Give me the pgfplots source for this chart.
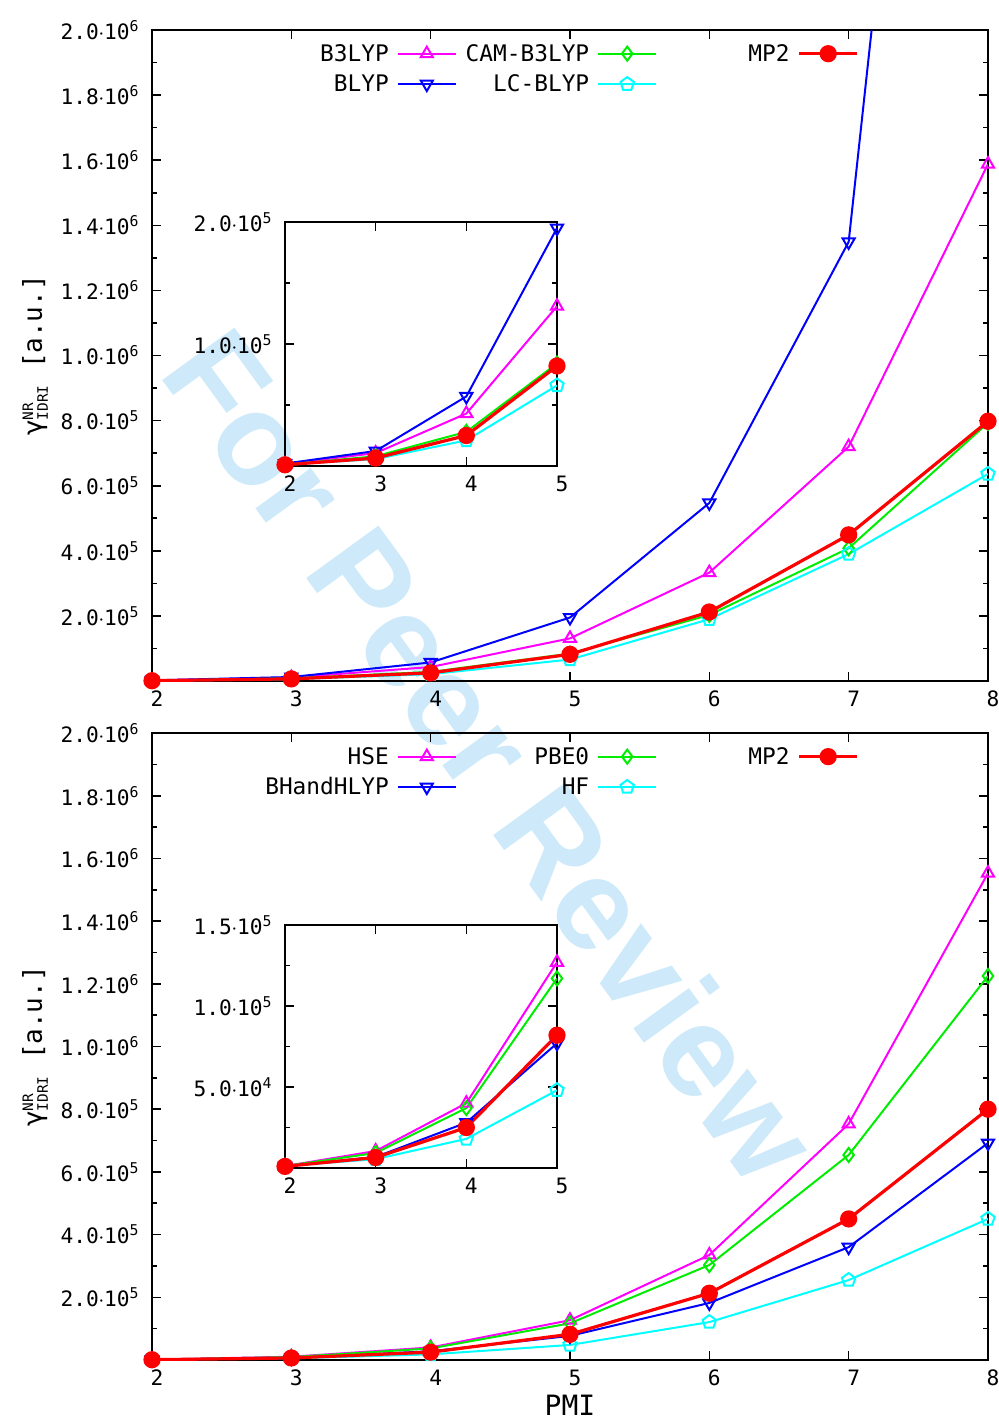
\documentclass[border=0pt]{standalone}
\usepackage{fontspec}
\setmainfont{DejaVu Sans Mono}
\newfontfamily\wmfont{Liberation Sans}
\usepackage{amsmath}
\usepackage{pgfplots}
\usepackage{pgfplotstable}
\pgfplotsset{compat=1.18}
\usetikzlibrary{plotmarks}

\definecolor{gpmag}{RGB}{255,0,255}
\definecolor{gpblue}{RGB}{0,0,255}
\definecolor{gpgreen}{RGB}{0,236,0}
\definecolor{gpcyan}{RGB}{0,255,255}
\definecolor{gpred}{RGB}{255,0,0}
\definecolor{wmblue}{RGB}{206,234,250}

\newcommand{\sci}[2]{#1\kern-0.2pt$\cdot$\kern-0.2pt10\textsuperscript{#2}}
\newcommand{\legtxt}[1]{\makebox[61.7pt][r]{\strut #1}}
\newcommand{\ylab}{\fontsize{13}{15}\selectfont γ$^{\text{\fontsize{7.2}{8}\selectfont NR}}_{\text{\fontsize{7.2}{8}\selectfont IDRI}}$ [a.u.]}

% values in a.u.
\pgfplotstableread{
x  b3lyp  blyp     cam     lc      mp2
2  1500   2000     1000    1000    1000
3  10600  12300    8000    5700    6500
4  43000  57000    28000   21000   25000
5  131000 195000   84000   66000   82000
6  333000 547000   203000  190000  212000
7  720000 1349000  408000  390000  449000
8  1588000 5300000 793000  636000  798000
}\toptab

\pgfplotstableread{
x  hse     bhh     pbe     hf      mp2
2  1200    1200    1200    1200    1000
3  10500   6800    9300    5500    6500
4  40000   28000   37000   18000   25000
5  127000  77000   117000  48000   82000
6  335000  182000  303000  121000  213000
7  753000  360000  654000  255000  450000
8  1553000 692000  1225000 450000  800000
}\bottab

\pgfplotsset{
  gp/.style={
    scale only axis, anchor=south west,
    axis line style={line width=1pt},
    tick style={line width=0.8pt, black},
    tick align=inside,
    major tick length=4.5pt, minor tick length=2.5pt,
    scaled y ticks=false,
    /pgf/number format/assume math mode=true,
    tick label style={font=\fontsize{10.6}{12}\selectfont},
    xticklabel style={yshift=-1pt, xshift=2.5pt},
    yticklabel style={xshift=-2.2pt},
    minor y tick num=1,
    every axis plot/.append style={line width=1pt, mark size=3.5pt},
  },
  mag/.style={gpmag, mark=triangle, mark options={solid}},
  blu/.style={gpblue, mark=triangle, mark options={solid, rotate=180}},
  grn/.style={gpgreen, mark=diamond, mark options={solid}},
  cya/.style={gpcyan, mark=pentagon, mark options={solid}},
  rd/.style={gpred, line width=1.6pt, mark=*, mark options={solid, fill=gpred}},
  gpleg/.style={
    legend columns=2, transpose legend,
    legend plot pos=right,
    legend image code/.code={\draw[mark repeat=2, mark phase=2, ##1]
      plot coordinates {(0pt,0pt) (14.5pt,0pt) (29pt,0pt)};},
    legend style={draw=none, fill=none, inner sep=0pt, row sep=3.9pt,
      nodes={inner sep=0pt},
      /tikz/every odd column/.style={column sep=4pt},
      /tikz/every even column/.style={column sep=4.5pt},
      anchor=north west, at={(axis description cs:0.1352,#1)}},
  },
  ylab/.style={ylabel style={at={(axis description cs:-0.14,0.5)}, anchor=center}},
}

\begin{document}
\fontsize{11.4pt}{13.7pt}\selectfont
\begin{tikzpicture}
\path[use as bounding box] (0,0) rectangle (499pt,-710.5pt);
\node[rotate=-54, text=wmblue, font=\wmfont\bfseries\fontsize{65}{70}\selectfont]
  at (246pt,-377.5pt) {For Peer Review};

% top panel
\begin{axis}[gp, gpleg=0.9816, ylab,
  at={(76pt,-340.5pt)}, width=418pt, height=325.5pt,
  xmin=2, xmax=8, ymin=0, ymax=2000000,
  xtick={2,3,4,5,6,7,8},
  ytick={0,200000,400000,600000,800000,1000000,1200000,1400000,1600000,1800000,2000000},
  yticklabels={,\sci{2.0}{5},\sci{4.0}{5},\sci{6.0}{5},\sci{8.0}{5},\sci{1.0}{6},\sci{1.2}{6},\sci{1.4}{6},\sci{1.6}{6},\sci{1.8}{6},\sci{2.0}{6}},
  ylabel={\ylab},
]
\addplot[mag] table[x=x, y=b3lyp] {\toptab};
\addlegendentry{\legtxt{B3LYP}}
\addplot[blu] table[x=x, y=blyp] {\toptab};
\addlegendentry{\legtxt{BLYP}}
\addplot[grn] table[x=x, y=cam] {\toptab};
\addlegendentry{\legtxt{CAM-B3LYP}}
\addplot[cya] table[x=x, y=lc] {\toptab};
\addlegendentry{\legtxt{LC-BLYP}}
\addplot[rd] table[x=x, y=mp2] {\toptab};
\addlegendentry{\legtxt{MP2}}
\end{axis}

% top inset
\begin{axis}[gp,
  at={(142.5pt,-233pt)}, width=136pt, height=122pt,
  xmin=2, xmax=5, ymin=0, ymax=200000,
  restrict x to domain=2:5,
  xtick={2,3,4,5},
  ytick={0,100000,200000},
  yticklabels={,\sci{1.0}{5},\sci{2.0}{5}},
]
\addplot[mag] table[x=x, y=b3lyp] {\toptab};
\addplot[blu] table[x=x, y=blyp] {\toptab};
\addplot[grn] table[x=x, y=cam] {\toptab};
\addplot[cya] table[x=x, y=lc] {\toptab};
\addplot[rd] table[x=x, y=mp2] {\toptab};
\end{axis}

% bottom panel
\begin{axis}[gp, gpleg=0.981, ylab,
  at={(76pt,-680pt)}, width=418pt, height=313.5pt,
  xmin=2, xmax=8, ymin=0, ymax=2000000,
  xtick={2,3,4,5,6,7,8},
  ytick={0,200000,400000,600000,800000,1000000,1200000,1400000,1600000,1800000,2000000},
  yticklabels={,\sci{2.0}{5},\sci{4.0}{5},\sci{6.0}{5},\sci{8.0}{5},\sci{1.0}{6},\sci{1.2}{6},\sci{1.4}{6},\sci{1.6}{6},\sci{1.8}{6},\sci{2.0}{6}},
  ylabel={\ylab},
  xlabel={PMI},
  xlabel style={at={(axis description cs:0.5,-0.072)}, anchor=center,
    font=\fontsize{14}{16}\selectfont},
]
\addplot[mag] table[x=x, y=hse] {\bottab};
\addlegendentry{\legtxt{HSE}}
\addplot[blu] table[x=x, y=bhh] {\bottab};
\addlegendentry{\legtxt{BHandHLYP}}
\addplot[grn] table[x=x, y=pbe] {\bottab};
\addlegendentry{\legtxt{PBE0}}
\addplot[cya] table[x=x, y=hf] {\bottab};
\addlegendentry{\legtxt{HF}}
\addplot[rd] table[x=x, y=mp2] {\bottab};
\addlegendentry{\legtxt{MP2}}
\end{axis}

% bottom inset
\begin{axis}[gp,
  at={(142.5pt,-584pt)}, width=136pt, height=121.5pt,
  xmin=2, xmax=5, ymin=0, ymax=150000,
  restrict x to domain=2:5,
  xtick={2,3,4,5},
  ytick={0,50000,100000,150000},
  yticklabels={,\sci{5.0}{4},\sci{1.0}{5},\sci{1.5}{5}},
]
\addplot[mag] table[x=x, y=hse] {\bottab};
\addplot[blu] table[x=x, y=bhh] {\bottab};
\addplot[grn] table[x=x, y=pbe] {\bottab};
\addplot[cya] table[x=x, y=hf] {\bottab};
\addplot[rd] table[x=x, y=mp2] {\bottab};
\end{axis}
\end{tikzpicture}
\end{document}
